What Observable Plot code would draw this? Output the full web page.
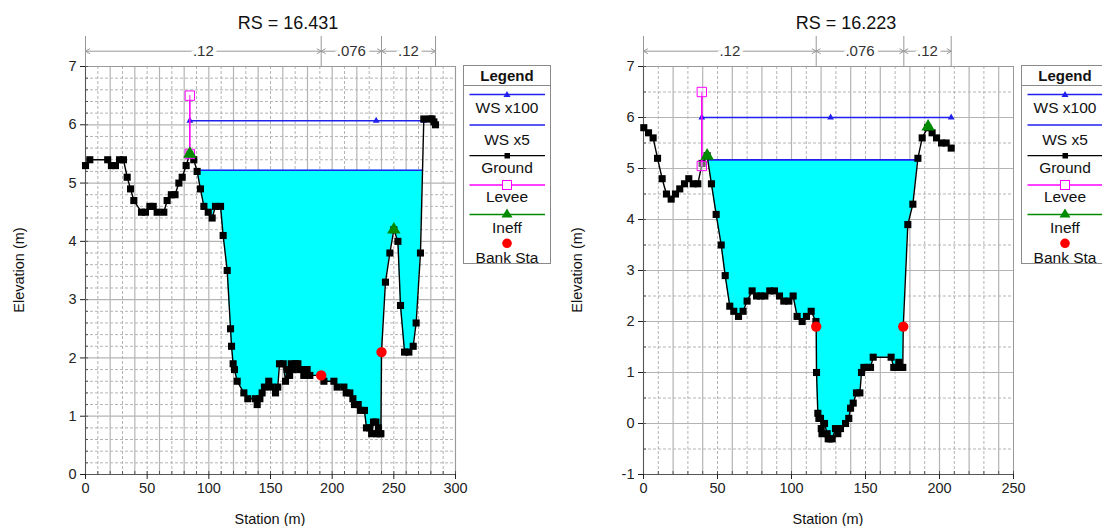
<!DOCTYPE html>
<html><head><meta charset="utf-8">
<script src="https://cdn.jsdelivr.net/npm/d3@7"></script>
<script src="https://cdn.jsdelivr.net/npm/@observablehq/plot@0.6"></script>
<style>
html,body{margin:0;padding:0;background:#fff;overflow:hidden;width:1102px;height:526px;}
body{font-family:"Liberation Sans",Arial,sans-serif;position:relative;color:#111;}
.chart{position:absolute;top:0;width:560px;height:526px;}
.chart svg.plot{position:absolute;left:0;top:0;}
.title{position:absolute;left:138px;width:300px;top:12px;text-align:center;font-size:18px;line-height:22px;}
.xlab{position:absolute;left:170px;width:200px;top:510px;text-align:center;font-size:14.5px;line-height:18px;}
.ylab{position:absolute;left:19px;top:270px;transform:translate(-50%,-50%) rotate(-90deg);white-space:nowrap;font-size:14.5px;line-height:18px;}
.legend{position:absolute;left:463px;top:65px;width:88px;height:199px;box-sizing:border-box;border:1px solid #8a8a8a;background:#fff;}
.legend .lh{position:absolute;left:0;width:86px;top:0;height:19px;line-height:19px;text-align:center;font-weight:bold;font-size:15px;border-bottom:1px solid #8a8a8a;}
.legend .lt{position:absolute;left:0;width:86px;text-align:center;font-size:15.5px;line-height:17px;}
.legend svg{position:absolute;left:0;top:0;}
</style>
</head><body>
<div class="chart" id="c1" style="left:0px"></div>
<div class="chart" id="c2" style="left:558px"></div>
<script>
// ---------- RS = 16.431 ----------
const rs1Title = "RS = 16.431";
const rs1Station = [0,3.5,18,21,24.3,27.6,30.8,33.8,36.5,39.2,45.4,48.6,52.2,54.9,58.1,63.5,66.2,69.6,72.6,75.7,78.4,81.6,84.6,87.8,90.5,93.2,96,99.5,102.7,105.4,109.5,111.6,114.9,117.6,118.4,119.7,120.8,123,128.4,131.6,137.8,139.2,141.4,143.2,145.1,148.6,150.5,154.1,155.9,157.3,160.3,162.2,163.5,165.5,166.8,168.5,170.5,172.2,173.8,177,178.5,179.7,181.9,191.1,193.3,201.4,204,209.5,211.4,214.3,216.8,218.1,221.1,223,226.2,227.8,230.5,232,233.5,235.5,236,237.5,238.6,239.5,240,243.2,246.8,250,253.3,255.4,258.7,262.2,265.7,268.1,271.6,274.3,279.5,281,282.5,283.8];
const rs1Elev    = [5.3,5.4,5.4,5.3,5.3,5.4,5.4,5.1,4.9,4.7,4.5,4.5,4.6,4.6,4.5,4.5,4.7,4.8,4.8,5.0,5.1,5.3,5.5,5.4,5.2,4.9,4.6,4.5,4.4,4.6,4.6,4.1,3.5,2.5,2.2,1.9,1.8,1.6,1.4,1.3,1.3,1.2,1.3,1.4,1.5,1.6,1.5,1.4,1.5,1.9,1.9,1.6,1.8,1.7,1.9,1.8,1.9,1.9,1.8,1.7,1.8,1.8,1.7,1.7,1.6,1.6,1.5,1.5,1.4,1.4,1.3,1.2,1.2,1.1,1.1,0.8,0.8,0.7,0.9,0.9,0.7,0.8,0.7,0.7,2.1,3.3,3.8,4.2,4.0,2.9,2.1,2.1,2.2,2.6,3.8,6.1,6.1,6.1,6.05,6.0];
const rs1BankSta = [191.1,240];
const rs1BankElev = [1.7,2.1];
const rs1LeveeSta = 84.6;
const rs1LeveeElev = [5.5,6.5];
const rs1IneffSta = [84.6,250];
const rs1IneffElev = [5.5,4.2];
const rs1WS100 = 6.07;
const rs1WS100Sta = [84.6,235.7,274.3];
const rs1WS5 = 5.22;
const rs1NBreaks = [0,191.1,240,283.8];
const rs1NValues = [".12",".076",".12"];
const rs1XTicks = [0,50,100,150,200,250,300];
const rs1YTicks = [0,1,2,3,4,5,6,7];

// ---------- RS = 16.223 ----------
const rs2Title = "RS = 16.223";
const rs2Station = [0.2,3.4,6.5,9.5,12.6,15.5,18.7,21.6,24.5,27.7,30.6,33.6,36.7,39.6,43,45.9,49.1,52.5,55.2,58.3,61,64.2,67.3,70,73.4,76.4,79.2,82,85.3,88.5,91.9,94.8,98.2,101.1,103.8,107.2,110.1,113.3,116.5,116.7,116.9,117.8,118.5,119.6,120.1,120.6,122.3,124.1,124.8,126.2,127.5,129.7,131.3,133.1,136.5,138.7,139.9,141.7,143.9,146.2,147.3,148.9,151.1,153.4,155.2,167.3,169.1,171,172.5,173.2,175.2,175.5,178.6,182,185.4,188.3,192,195,198,201.4,204.5,207.9];
const rs2Elev    = [5.8,5.7,5.6,5.2,4.8,4.5,4.4,4.5,4.6,4.7,4.8,4.7,4.7,5.1,5.25,4.7,4.1,3.5,2.9,2.3,2.2,2.1,2.2,2.4,2.6,2.5,2.5,2.5,2.6,2.6,2.5,2.4,2.4,2.5,2.1,2.0,2.1,2.2,2.0,1.9,1.0,0.2,0.1,0.1,-0.1,-0.2,0.0,-0.2,-0.3,-0.3,-0.3,-0.1,-0.2,-0.1,0.0,0.1,0.3,0.4,0.6,0.6,1.0,1.1,1.1,1.1,1.3,1.3,1.1,1.1,1.2,1.1,1.1,1.9,3.9,4.3,5.2,5.6,5.8,5.7,5.6,5.5,5.5,5.4];
const rs2BankSta = [116.7,175.5];
const rs2BankElev = [1.9,1.9];
const rs2LeveeSta = 39.4;
const rs2LeveeElev = [5.05,6.5];
const rs2IneffSta = [43,192.3];
const rs2IneffElev = [5.25,5.82];
const rs2WS100 = 6.0;
const rs2WS100Sta = [39.4,126.4,207.9];
const rs2WS5 = 5.17;
const rs2NBreaks = [0,116.7,175.9,207.9];
const rs2NValues = [".12",".076",".12"];
const rs2XTicks = [0,50,100,150,200,250];
const rs2YTicks = [-1,0,1,2,3,4,5,6,7];

const FONT = '"Liberation Sans", Arial, sans-serif';

function wetArea(st, el, ws, fromSta) {
  let iL = -1, iR = -1;
  for (let i = 0; i < st.length - 1; i++) {
    if (st[i] >= fromSta && el[i] >= ws && el[i+1] < ws) { iL = i; break; }
  }
  for (let i = st.length - 2; i >= 0; i--) {
    if (el[i] < ws && el[i+1] >= ws) { iR = i; break; }
  }
  const cross = i => st[i] + (ws - el[i]) * (st[i+1] - st[i]) / (el[i+1] - el[i]);
  const xL = cross(iL), xR = cross(iR);
  const pts = [{s: xL, e: ws}];
  for (let i = iL + 1; i <= iR; i++) pts.push({s: st[i], e: el[i]});
  pts.push({s: xR, e: ws});
  return {pts, xL, xR};
}

function chart(c) {
  const W = 560, H = 526, mL = 85, mR = 105, mT = 66, mB = 52;
  const xMax = c.xTicks[c.xTicks.length - 1];
  const yMin = c.yTicks[0], yMax = c.yTicks[c.yTicks.length - 1];
  const pxX = (W - mL - mR) / xMax, pxY = (H - mT - mB) / (yMax - yMin);
  const ground = c.station.map((s, i) => ({s, e: c.elev[i]}));
  const wet = wetArea(c.station, c.elev, c.ws5, c.leveeSta);
  const xMinor = d3.range(0, xMax + 1e-6, 10);
  const xSolid = xMinor.filter(v => v % 20 === 0);
  const xDash = xMinor.filter(v => v % 20 !== 0);
  const nY = Math.round((yMax - yMin) / c.yStep);
  const yMinor = d3.range(0, nY + 1).map(k => +(yMin + k * c.yStep).toFixed(3));
  const ySolid = yMinor.filter(v => Math.abs(v - Math.round(v)) < 1e-6);
  const yDash = yMinor.filter(v => Math.abs(v - Math.round(v)) >= 1e-6);
  const yRulerTop = yMax + 30 / pxY, yArrow = yMax + 15.3 / pxY;
  const spans = c.nValues.map((n, i) => ({a: c.nBreaks[i], b: c.nBreaks[i+1], m: (c.nBreaks[i] + c.nBreaks[i+1]) / 2, n}));
  const levee = c.leveeElev.map(e => ({s: c.leveeSta, e}));
  const bank = c.bankSta.map((s, i) => ({s, e: c.bankElev[i]}));
  const ineff = c.ineffSta.map((s, i) => ({s, e: c.ineffElev[i]}));
  const ws100 = c.ws100Sta.map(s => ({s, e: c.ws100}));
  const gridC = "#b4b4b4";
  const svg = Plot.plot({
    width: W, height: H, marginLeft: mL, marginRight: mR, marginTop: mT, marginBottom: mB,
    x: {domain: [0, xMax]}, y: {domain: [yMin, yMax]},
    style: {fontFamily: FONT, fontSize: "14px", background: "transparent", overflow: "visible"},
    marks: [
      Plot.gridX(xDash, {stroke: gridC, strokeOpacity: 1, strokeDasharray: "3,2"}),
      Plot.gridX(xSolid, {stroke: gridC, strokeOpacity: 1, strokeWidth: 1.2}),
      Plot.gridY(yDash, {stroke: gridC, strokeOpacity: 1, strokeDasharray: "3,2"}),
      Plot.gridY(ySolid, {stroke: gridC, strokeOpacity: 1, strokeWidth: 1.2}),
      Plot.areaY(wet.pts, {x: "s", y1: "e", y2: () => c.ws5, fill: "#00ffff", fillOpacity: 1}),
      Plot.frame({stroke: "#999"}),
      Plot.ruleX([0], {stroke: "#555"}),
      Plot.ruleY([yMin], {stroke: "#555"}),
      Plot.ruleX(xMinor, {y1: yMin, y2: yMin + 3 / pxY, stroke: "#555"}),
      Plot.ruleY(yMinor, {x1: 0, x2: 3 / pxX, stroke: "#555"}),
      Plot.axisX(c.xTicks, {tickSize: 5, tickPadding: 3, fontSize: 14.5, label: null, color: "#222", tickFormat: d => String(d)}),
      Plot.axisY(c.yTicks, {tickSize: 5, tickPadding: 4, fontSize: 14.5, label: null, color: "#222", tickFormat: d => String(d)}),
      // Manning's n ruler
      Plot.ruleX(c.nBreaks, {y1: yMax, y2: yRulerTop, stroke: "#999"}),
      Plot.arrow(spans, {x1: "m", x2: "a", y1: yArrow, y2: yArrow, stroke: "#999", strokeWidth: 1, headLength: 7, headAngle: 60}),
      Plot.arrow(spans, {x1: "m", x2: "b", y1: yArrow, y2: yArrow, stroke: "#999", strokeWidth: 1, headLength: 7, headAngle: 60}),
      Plot.text(spans, {x: "m", y: yArrow, text: "n", fill: "#333", stroke: "white", strokeWidth: 8, fontSize: 15}),
      // water surfaces
      Plot.line([{s: wet.xL, e: c.ws5}, {s: wet.xR, e: c.ws5}], {x: "s", y: "e", stroke: "#2020ee", strokeWidth: 1.6}),
      Plot.line(ws100, {x: "s", y: "e", stroke: "#2020ee", strokeWidth: 1.6}),
      Plot.dot(ws100, {x: "s", y: "e", symbol: "triangle", r: 2.5, fill: "#2020ee"}),
      // ground
      Plot.line(ground, {x: "s", y: "e", stroke: "#000", strokeWidth: 1.4}),
      Plot.dot(ground, {x: "s", y: "e", symbol: "square", r: 4, fill: "#000"}),
      // levee
      Plot.line(levee, {x: "s", y: "e", stroke: "#ff00ff", strokeWidth: 1.6}),
      Plot.dot(levee, {x: "s", y: "e", symbol: "square", r: 5.3, fill: "#fff", fillOpacity: 0.4, stroke: "#ff00ff", strokeWidth: 1}),
      // ineffective
      Plot.dot(ineff, {x: "s", y: "e", symbol: "triangle", r: 5, fill: "#008a00"}),
      // bank stations
      Plot.dot(bank, {x: "s", y: "e", r: 5.2, fill: "#ff0000"})
    ]
  });
  svg.classList.add("plot");
  const el = document.getElementById(c.id);
  el.appendChild(svg);
  const add = (cls, txt) => { const d = document.createElement("div"); d.className = cls; d.textContent = txt; el.appendChild(d); return d; };
  add("title", c.title);
  add("xlab", "Station (m)");
  add("ylab", "Elevation (m)");
  // legend
  const lg = document.createElement("div"); lg.className = "legend";
  lg.innerHTML = `
  <div class="lh">Legend</div>
  <svg width="86" height="197">
    <line x1="5.5" x2="81" y1="28.5" y2="28.5" stroke="#2020ee" stroke-width="1.4"/>
    <path d="M43,25 L46.5,31 L39.5,31 Z" fill="#2020ee"/>
    <line x1="5.5" x2="81" y1="59" y2="59" stroke="#2020ee" stroke-width="1.4"/>
    <line x1="5.5" x2="81" y1="89.7" y2="89.7" stroke="#000" stroke-width="1.2"/>
    <rect x="40.5" y="87" width="5.5" height="5.5" fill="#000"/>
    <line x1="5.5" x2="81" y1="119" y2="119" stroke="#ff00ff" stroke-width="1.4"/>
    <rect x="38.5" y="114.5" width="9" height="9" fill="#fff" stroke="#ff00ff" stroke-width="1"/>
    <line x1="5.5" x2="81" y1="148.5" y2="148.5" stroke="#008a00" stroke-width="1.4"/>
    <path d="M43,142.5 L48.5,151.5 L37.5,151.5 Z" fill="#008a00"/>
    <circle cx="43" cy="177.3" r="4.8" fill="#ff0000"/>
  </svg>
  <div class="lt" style="top:33px">WS x100</div>
  <div class="lt" style="top:65px">WS x5</div>
  <div class="lt" style="top:93px">Ground</div>
  <div class="lt" style="top:122px">Levee</div>
  <div class="lt" style="top:153px">Ineff</div>
  <div class="lt" style="top:183px">Bank Sta</div>`;
  el.appendChild(lg);
}

chart({id: "c1", title: rs1Title, station: rs1Station, elev: rs1Elev, bankSta: rs1BankSta, bankElev: rs1BankElev,
  leveeSta: rs1LeveeSta, leveeElev: rs1LeveeElev, ineffSta: rs1IneffSta, ineffElev: rs1IneffElev,
  ws100: rs1WS100, ws100Sta: rs1WS100Sta, ws5: rs1WS5, nBreaks: rs1NBreaks, nValues: rs1NValues,
  xTicks: rs1XTicks, yTicks: rs1YTicks, yStep: 0.2});
chart({id: "c2", title: rs2Title, station: rs2Station, elev: rs2Elev, bankSta: rs2BankSta, bankElev: rs2BankElev,
  leveeSta: rs2LeveeSta, leveeElev: rs2LeveeElev, ineffSta: rs2IneffSta, ineffElev: rs2IneffElev,
  ws100: rs2WS100, ws100Sta: rs2WS100Sta, ws5: rs2WS5, nBreaks: rs2NBreaks, nValues: rs2NValues,
  xTicks: rs2XTicks, yTicks: rs2YTicks, yStep: 0.5});
</script>
</body></html>
